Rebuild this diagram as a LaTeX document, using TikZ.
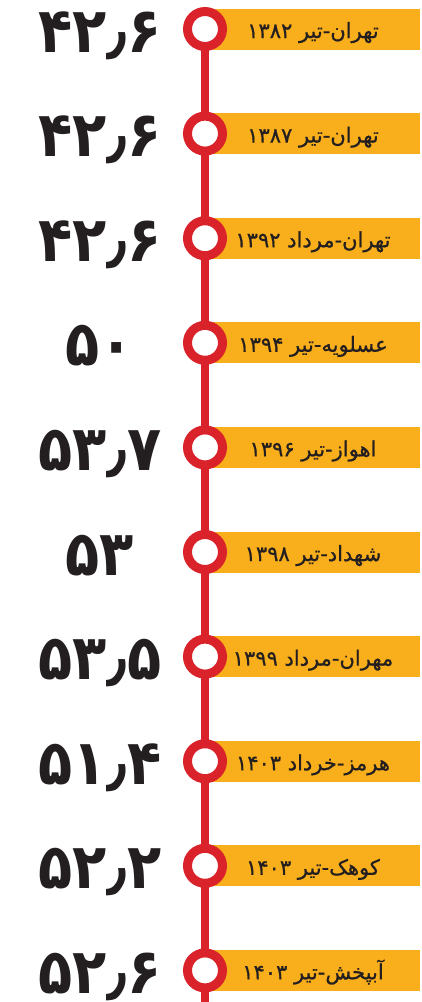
\documentclass[tikz,border=0pt]{standalone}
\usepackage{fontspec}
\TeXXeTstate=1
\newfontfamily\arabicfont[Script=Arabic,FakeBold=0.8]{DejaVu Sans}
\newfontfamily\numfont{DejaVu Sans Bold}
\definecolor{tred}{HTML}{DA222B}
\definecolor{tyellow}{HTML}{F9AE1B}
\definecolor{tblack}{HTML}{231F20}
\begin{document}
\begin{tikzpicture}[x=1pt,y=-1pt]
\useasboundingbox (0,0) rectangle (421,1002);
\tikzset{
 stop/.style={circle, draw=tred, line width=9pt, fill=white, minimum size=35pt, inner sep=0pt},
 tag/.style={rectangle, fill=tyellow, minimum width=207pt, minimum height=41pt, inner sep=0pt},
 lbl/.style={anchor=base, font=\arabicfont\fontsize{21}{21}\selectfont, inner sep=0pt, text=tblack},
 num/.style={anchor=base, font=\numfont\fontsize{56}{56}\selectfont, inner sep=0pt, text=tblack},
 rail/.style={draw=tred, line width=8pt, shorten <=-2pt, shorten >=-2pt}
}
\foreach \i/\n/\t in {
 1/{۴۲٫۶}/{تهران-تیر \beginL ۱۳۸۲\endL},
 2/{۴۲٫۶}/{تهران-تیر \beginL ۱۳۸۷\endL},
 3/{۴۲٫۶}/{تهران-مرداد \beginL ۱۳۹۲\endL},
 4/{۵۰}/{عسلویه-تیر \beginL ۱۳۹۴\endL},
 5/{۵۳٫۷}/{اهواز-تیر \beginL ۱۳۹۶\endL},
 6/{۵۳}/{شهداد-تیر \beginL ۱۳۹۸\endL},
 7/{۵۳٫۵}/{مهران-مرداد \beginL ۱۳۹۹\endL},
 8/{۵۱٫۴}/{هرمز-خرداد \beginL ۱۴۰۳\endL},
 9/{۵۲٫۲}/{کوهک-تیر \beginL ۱۴۰۳\endL},
 10/{۵۲٫۶}/{آبپخش-تیر \beginL ۱۴۰۳\endL}} {
  \pgfmathsetmacro\y{29+104.6*(\i-1)}
  \node[tag] (b\i) at (316.5,\y) {};
  \node[stop] (c\i) at (205,\y) {};
  \node[lbl] (t\i) at (313,\y+9) {\beginR\t\endR};
  \node[num] (n\i) at (100,\y+23) {\scalebox{1}[1.12]{\n}};
}
\coordinate (end) at (205,1002);
\foreach \i [evaluate=\i as \j using int(\i+1)] in {1,...,9} {
  \draw[rail] (c\i) -- (c\j);
}
\draw[rail, shorten >=0pt] (c10) -- (end);
\end{tikzpicture}
\end{document}
